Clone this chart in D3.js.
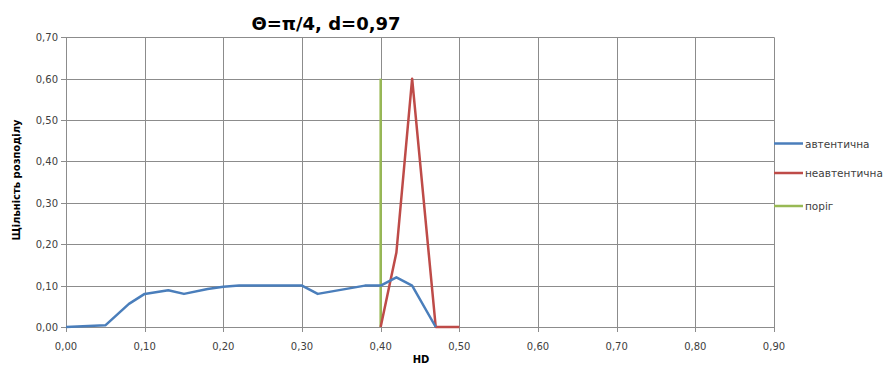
<!DOCTYPE html>
<html>
<head>
<meta charset="utf-8">
<script src="https://cdn.jsdelivr.net/npm/d3@7"></script>
<style>
  body { margin: 0; background: #fff; }
  text { font-family: "DejaVu Sans", Verdana, sans-serif; }
</style>
</head>
<body>
<div id="chart"></div>
<script>
// data
var authX = [0.00, 0.05, 0.08, 0.10, 0.13, 0.15, 0.18, 0.20, 0.22, 0.30, 0.32, 0.38, 0.40, 0.42, 0.44, 0.47]
var authY = [0.00, 0.004, 0.056, 0.08, 0.089, 0.08, 0.092, 0.097, 0.10, 0.10, 0.08, 0.10, 0.10, 0.12, 0.10, 0.00]
var nonAuthX = [0.40, 0.42, 0.44, 0.47, 0.50]
var nonAuthY = [0.00, 0.18, 0.60, 0.00, 0.00]
var thresholdX = [0.40, 0.40]
var thresholdY = [0.00, 0.60]
var seriesNames = ['автентична', 'неавтентична', 'поріг']
var seriesColors = ['#4a7ebb', '#be4b48', '#98b954']
var xTicks = [0, 0.1, 0.2, 0.3, 0.4, 0.5, 0.6, 0.7, 0.8, 0.9]
var yTicks = [0, 0.1, 0.2, 0.3, 0.4, 0.5, 0.6, 0.7]

var width = 888, height = 368
var m = {left: 66, top: 37.3, right: 114, bottom: 41}

var svg = d3.select('#chart').append('svg')
    .attr('width', width)
    .attr('height', height)

var x = d3.scaleLinear().domain([0, 0.9]).range([m.left, width - m.right])
var y = d3.scaleLinear().domain([0, 0.7]).range([height - m.bottom, m.top])
var fmt = function(d) { return d3.format('.2f')(d).replace('.', ',') }

// gridlines
svg.append('g').selectAll('line.h')
    .data(yTicks).enter().append('line')
    .attr('x1', x(0) - 5).attr('x2', x(0.9))
    .attr('y1', d => Math.round(y(d)) + 0.5).attr('y2', d => Math.round(y(d)) + 0.5)
    .attr('stroke', '#8c8c8c')

svg.append('g').selectAll('line.v')
    .data(xTicks).enter().append('line')
    .attr('x1', d => Math.round(x(d)) + 0.5).attr('x2', d => Math.round(x(d)) + 0.5)
    .attr('y1', y(0.7)).attr('y2', y(0) + 5)
    .attr('stroke', '#8c8c8c')

// tick labels
svg.append('g').selectAll('text')
    .data(yTicks).enter().append('text')
    .attr('x', x(0) - 8)
    .attr('y', d => y(d) + 4)
    .attr('text-anchor', 'end')
    .attr('font-size', 10)
    .attr('fill', '#404040')
    .text(fmt)

svg.append('g').selectAll('text')
    .data(xTicks).enter().append('text')
    .attr('x', d => x(d))
    .attr('y', y(0) + 23)
    .attr('text-anchor', 'middle')
    .attr('font-size', 10)
    .attr('fill', '#404040')
    .text(fmt)

// series
var line = d3.line().x(d => x(d[0])).y(d => y(d[1]))
var series = [
  d3.zip(authX, authY),
  d3.zip(nonAuthX, nonAuthY),
  d3.zip(thresholdX, thresholdY)
]
// threshold first, then non-authentic, then authentic on top
svg.append('path').datum(series[2]).attr('d', line)
    .attr('fill', 'none').attr('stroke', seriesColors[2]).attr('stroke-width', 2.5)
svg.append('path').datum(series[1]).attr('d', line)
    .attr('fill', 'none').attr('stroke', seriesColors[1]).attr('stroke-width', 2.5)
    .attr('stroke-linejoin', 'round')
svg.append('path').datum(series[0]).attr('d', line)
    .attr('fill', 'none').attr('stroke', seriesColors[0]).attr('stroke-width', 2.5)
    .attr('stroke-linejoin', 'round')

// title
svg.append('text')
    .attr('x', 326).attr('y', 30)
    .attr('text-anchor', 'middle')
    .attr('font-size', 18).attr('font-weight', 'bold')
    .attr('fill', '#000')
    .text('Θ=π/4, d=0,97')

// axis titles
svg.append('text')
    .attr('x', 421).attr('y', 363)
    .attr('text-anchor', 'middle')
    .attr('font-size', 10).attr('font-weight', 'bold')
    .attr('fill', '#000')
    .text('HD')

svg.append('text')
    .attr('transform', 'translate(20,' + 180 + ') rotate(-90)')
    .attr('text-anchor', 'middle')
    .attr('font-size', 10).attr('font-weight', 'bold')
    .attr('fill', '#000')
    .text('Щільність розподілу')

// legend
var legendY = [143.5, 173, 206]
var lg = svg.append('g').selectAll('g')
    .data(seriesNames).enter().append('g')
    .attr('transform', (d, i) => 'translate(774,' + legendY[i] + ')')
lg.append('line')
    .attr('x1', 0).attr('x2', 29)
    .attr('stroke', (d, i) => seriesColors[i]).attr('stroke-width', 2.5)
lg.append('text')
    .attr('x', 31).attr('y', 4)
    .attr('font-size', 10.5)
    .attr('fill', '#404040')
    .text(d => d)
</script>
</body>
</html>
